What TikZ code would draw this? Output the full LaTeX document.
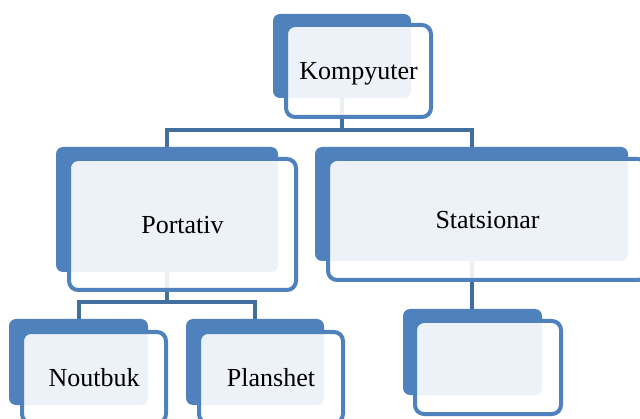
\documentclass[tikz,border=0pt]{standalone}
\usepackage{fontspec}
\setmainfont{Liberation Serif}
\usepackage{tikz}
\usetikzlibrary{backgrounds}
\definecolor{boxblue}{HTML}{4F81BD}
\definecolor{linkblue}{HTML}{41709F}

\begin{document}
\begin{tikzpicture}[x=1pt,y=1pt,
    back node/.style={rectangle,rounded corners=7pt,fill=boxblue,inner sep=0pt},
    main node/.style={rectangle,rounded corners=9pt,draw=boxblue,line width=4pt,fill=white,fill opacity=0.9,text opacity=1,inner sep=0pt,text height=17.4pt,text depth=0pt,font=\fontsize{26}{30}\selectfont},
    link/.style={draw=linkblue,line width=4pt}]
    \useasboundingbox (0,0) rectangle (640,418);

    \node[back node,minimum width=138pt,minimum height=84pt] (kompback) at (342,362) {};
    \node[main node,minimum width=145pt,minimum height=92pt] (komp) at (358.5,347) {Kompyuter};

    \node[back node,minimum width=222pt,minimum height=125pt] (portback) at (167,208.5) {};
    \node[main node,minimum width=227pt,minimum height=131pt] (port) at (182.5,193.5) {Portativ};

    \node[back node,minimum width=313pt,minimum height=114pt] (statback) at (471.5,214) {};
    \node[main node,minimum width=319pt,minimum height=121pt] (stat) at (487.5,198.5) {Statsionar};

    \node[back node,minimum width=139pt,minimum height=86pt] (noutback) at (78.5,56) {};
    \node[main node,minimum width=144pt,minimum height=91pt] (nout) at (94,40.5) {Noutbuk};

    \node[back node,minimum width=138pt,minimum height=86pt] (planback) at (255,56) {};
    \node[main node,minimum width=144pt,minimum height=91pt] (plan) at (271,40.5) {Planshet};

    \node[back node,minimum width=139pt,minimum height=86pt] (emptyback) at (472.5,66) {};
    \node[main node,minimum width=146pt,minimum height=93pt] (empty) at (488,50.5) {};

    % connectors behind the boxes
    \begin{scope}[on background layer]
        \draw[link] (kompback.south) -- ++(0,-31.5) -| (portback.north);
        \draw[link] (kompback.south) -- ++(0,-31.5) -| (statback.north);
        \draw[link] (portback.south) -- ++(0,-29.5) -| (noutback.north);
        \draw[link] (portback.south) -- ++(0,-29.5) -| (planback.north);
        \draw[link] (statback.south) -- (statback.south |- emptyback.north);
    \end{scope}
\end{tikzpicture}
\end{document}
